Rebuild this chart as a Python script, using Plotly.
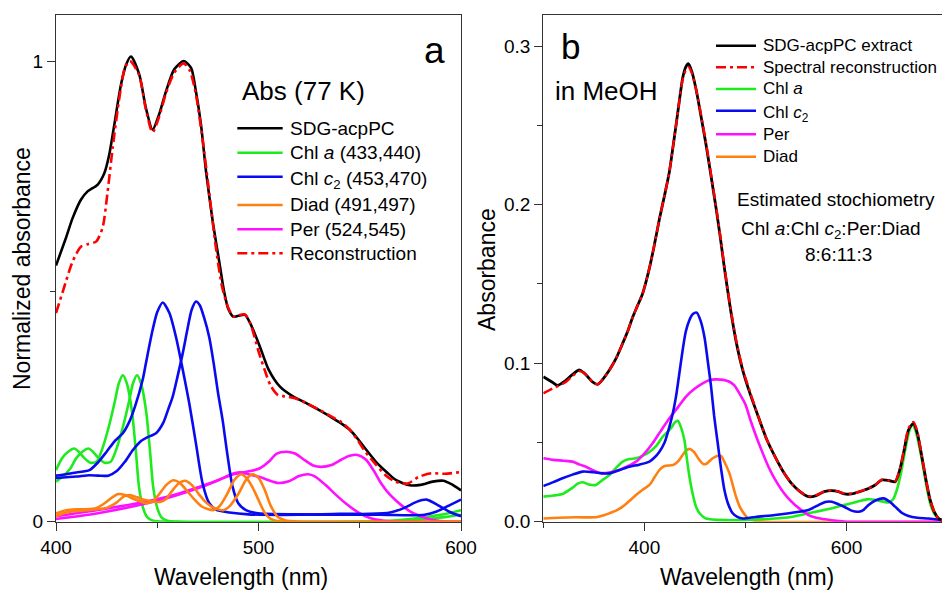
import plotly.graph_objects as go

# ---------------- Panel a (77 K, normalized) ----------------
a_sdg_wl = [400, 404.9, 408.2, 412.3, 415.6, 420.6, 423.9, 426.3, 428.8, 432.1, 434.6, 437, 441.1, 444.4,
            447.7, 450.9, 454.3, 458.4, 463.1, 466.7, 469.1, 471.6, 474.1, 477.4, 480.6, 483, 485, 487.6,
            490, 493.3, 496, 500.7, 505, 510.6, 517, 523.8, 530, 537, 541, 545.2, 549, 553.4, 558, 563.2,
            568, 574.8, 580, 586, 591.3, 595, 600]
a_sdg_val = [0.556, 0.616, 0.659, 0.699, 0.717, 0.732, 0.757, 0.797, 0.862, 0.949, 0.992, 1.01, 0.971, 0.898,
             0.851, 0.884, 0.934, 0.982, 1.0, 0.985, 0.934, 0.862, 0.76, 0.652, 0.565, 0.50, 0.463, 0.445,
             0.447, 0.449, 0.43, 0.38, 0.33, 0.293, 0.272, 0.257, 0.242, 0.224, 0.213, 0.199, 0.18, 0.155, 0.13, 0.108,
             0.09, 0.079, 0.08, 0.087, 0.089, 0.082, 0.068]

a_rec_wl = [400, 403.6, 408.2, 412.3, 416, 419.8, 423, 425.5, 428, 431.3, 434, 436.5, 441, 444.4, 447.7, 451,
            454.3, 458.4, 463, 466, 469, 472.4, 475.5, 479, 482, 485, 487.6, 490, 493.3, 496, 500, 503, 506,
            509.6, 513, 518, 523.8, 530, 537, 541, 545, 549, 553, 558, 563, 568, 573.8, 579, 585.3, 592, 600]
a_rec_val = [0.453, 0.503, 0.565, 0.597, 0.603, 0.608, 0.638, 0.717, 0.812, 0.92, 0.985, 1.0, 0.97, 0.895, 0.845, 0.88,
             0.93, 0.975, 0.995, 0.98, 0.93, 0.83, 0.72, 0.594, 0.51, 0.465, 0.445, 0.448, 0.45, 0.43, 0.37, 0.33, 0.295,
             0.275, 0.272, 0.268, 0.257, 0.243, 0.226, 0.216, 0.2, 0.177, 0.15, 0.124, 0.1, 0.086, 0.083, 0.097, 0.105, 0.104, 0.108]

a_chla1_wl = [400, 403, 406, 409, 411, 414, 417, 420, 423, 426, 429, 431, 433, 435, 437.5, 439.5, 441, 443, 445,
              448, 455, 560, 575, 590, 600]
a_chla1_val = [0.112, 0.138, 0.152, 0.159, 0.153, 0.138, 0.128, 0.13, 0.16, 0.205, 0.26, 0.3, 0.318, 0.3, 0.24, 0.15,
               0.075, 0.03, 0.01, 0.002, 0.0, 0.001, 0.006, 0.015, 0.025]
a_chla2_wl = [400, 403, 407, 410, 413, 416, 418, 421, 424, 427, 430, 433, 436, 438, 440, 442, 444.5, 446.5, 448,
              450, 452, 455, 462, 565, 580, 592, 600]
a_chla2_val = [0.087, 0.097, 0.115, 0.138, 0.152, 0.159, 0.153, 0.138, 0.128, 0.13, 0.16, 0.205, 0.26, 0.3, 0.318,
               0.3, 0.24, 0.15, 0.075, 0.03, 0.01, 0.002, 0.0, 0.001, 0.005, 0.01, 0.015]

a_chlc1_wl = [400, 405, 410, 416.5, 421, 425, 429, 433, 436, 439, 442.8, 444.4, 447.7, 450, 452.7, 456, 459.3,
              462.6, 465.8, 469.1, 472.4, 475.7, 479, 485.6, 495, 520, 540, 555, 565, 572, 578, 583, 589, 595, 600]
a_chlc1_val = [0.10, 0.103, 0.107, 0.112, 0.13, 0.152, 0.175, 0.192, 0.215, 0.25, 0.308, 0.344, 0.416, 0.455, 0.476,
               0.453, 0.40, 0.33, 0.257, 0.17, 0.083, 0.04, 0.026, 0.02, 0.016, 0.015, 0.017, 0.017, 0.02, 0.03, 0.043,
               0.048, 0.035, 0.02, 0.012]
a_chlc2_wl = [400, 410, 416.5, 421, 425.8, 430, 434, 437.9, 442, 445, 449.4, 453, 455.5, 457.6, 460, 462.6, 465,
              467, 469.1, 471, 473, 475.7, 478, 480, 482.3, 484.5, 487.2, 490, 493.8, 500, 520, 540, 560, 575, 582,
              588, 594, 600]
a_chlc2_val = [0.095, 0.098, 0.101, 0.1, 0.1, 0.11, 0.13, 0.155, 0.175, 0.183, 0.192, 0.215, 0.245, 0.271, 0.315,
               0.366, 0.42, 0.46, 0.478, 0.47, 0.445, 0.40, 0.34, 0.28, 0.22, 0.15, 0.076, 0.04, 0.025, 0.018, 0.016,
               0.015, 0.015, 0.014, 0.015, 0.022, 0.035, 0.048]

a_diad1_wl = [400, 405, 410, 415, 420, 424, 427.5, 430.8, 434, 437, 441, 444.8, 448, 451, 454.5, 457.9, 461,
              464.5, 468, 472, 477.7, 481, 484.5, 488, 491.4, 494, 497, 500, 503, 506, 510, 520, 600]
a_diad1_val = [0.018, 0.025, 0.027, 0.027, 0.03, 0.04, 0.052, 0.06, 0.058, 0.052, 0.045, 0.04, 0.045, 0.06, 0.08,
               0.09, 0.085, 0.068, 0.05, 0.033, 0.025, 0.035, 0.06, 0.09, 0.103, 0.095, 0.075, 0.047, 0.02, 0.006,
               0.001, 0.0, 0.0]
a_diad2_wl = [400, 405, 410, 415, 420, 425, 430, 433.5, 436.5, 440, 444, 447.5, 451.4, 454.5, 457, 460.5, 463.7,
              467, 470.5, 474, 478, 482.6, 486, 490, 494, 497, 500, 503, 506, 509.6, 513, 520, 600]
a_diad2_val = [0.012, 0.02, 0.023, 0.025, 0.027, 0.03, 0.042, 0.055, 0.058, 0.053, 0.047, 0.044, 0.043, 0.05, 0.065,
               0.083, 0.089, 0.08, 0.06, 0.042, 0.03, 0.025, 0.035, 0.06, 0.092, 0.103, 0.095, 0.07, 0.035, 0.01,
               0.003, 0.0, 0.0]

a_per1_wl = [400, 420, 446, 460, 471, 480, 487.6, 492, 496, 500.7, 505, 509, 513.5, 518, 523, 527, 531, 536, 541,
             545, 549, 553, 557, 560.6, 565, 570.5, 575, 578.8, 585, 592, 600]
a_per1_val = [0.012, 0.025, 0.045, 0.06, 0.076, 0.09, 0.103, 0.107, 0.11, 0.116, 0.13, 0.148, 0.152, 0.148, 0.133,
              0.122, 0.119, 0.123, 0.135, 0.143, 0.145, 0.135, 0.11, 0.083, 0.058, 0.036, 0.022, 0.014, 0.005, 0.001, 0.0]
a_per2_wl = [400, 420, 446, 460, 471, 480, 486, 491, 496, 500.7, 505, 509.8, 515, 520, 524.4, 528, 533, 537.6,
             543, 549, 555, 562, 570, 600]
a_per2_val = [0.006, 0.018, 0.041, 0.058, 0.074, 0.09, 0.102, 0.107, 0.102, 0.097, 0.09, 0.084, 0.088, 0.099, 0.103,
              0.098, 0.08, 0.061, 0.04, 0.021, 0.008, 0.002, 0.0, 0.0]

# ---------------- Panel b (MeOH) ----------------
b_sdg_wl = [300, 309, 314, 322, 329, 335.6, 340, 344, 349, 353.8, 359, 365.4, 372, 378.5, 384, 388.4, 393, 398.3,
            405, 410, 414.9, 420, 424.8, 428, 431.3, 434.5, 437.9, 441, 443.5, 447, 451.1, 456, 461, 466, 470.9, 475,
            479.2, 485, 491, 497.3, 505, 512.9, 521, 529.3, 537, 545.8, 554, 562.4, 570, 578, 585.4, 592, 598, 605.2,
            613, 621.8, 628, 635, 642, 648.1, 653.1, 657, 661.4, 666.3, 670, 674.6, 678.5, 682.8, 687, 691.1, 694.5]
b_sdg_val = [0.0915, 0.088, 0.086, 0.089, 0.093, 0.0957, 0.094, 0.0915, 0.088, 0.0867, 0.09, 0.0957, 0.103, 0.1125,
             0.121, 0.129, 0.136, 0.144, 0.16, 0.175, 0.191, 0.206, 0.221, 0.235, 0.25, 0.265, 0.28, 0.287, 0.289,
             0.284, 0.273, 0.256, 0.238, 0.218, 0.198, 0.18, 0.16, 0.135, 0.113, 0.0957, 0.08, 0.066, 0.052, 0.041,
             0.032, 0.024, 0.019, 0.0158, 0.0165, 0.019, 0.0196, 0.019, 0.0175, 0.0175, 0.019, 0.021, 0.023, 0.0263,
             0.026, 0.0252, 0.0337, 0.045, 0.058, 0.062, 0.056, 0.041, 0.027, 0.0137, 0.006, 0.002, 0.001]

b_rec_wl = [300, 309, 316, 322, 329, 335.6, 340, 344, 349, 353.8, 359, 365.4, 372, 378.5, 384, 388.4, 393, 398.3,
            405, 410, 414.9, 420, 424.8, 428, 431.3, 434.5, 437.9, 441, 443.5, 447, 451.1, 456, 461, 466, 470.9, 475,
            479.2, 485, 491, 497.3, 505, 512.9, 521, 529.3, 537, 545.8, 554, 562.4, 570, 578, 585.4, 592, 598, 605.2,
            613, 621.8, 628, 635, 642, 648.1, 653.1, 657, 661.4, 666.3, 670, 674.6, 678.5, 682.8, 687, 691.1, 694.5]
b_rec_val = [0.081, 0.084, 0.086, 0.088, 0.092, 0.095, 0.094, 0.0915, 0.088, 0.0867, 0.09, 0.0955, 0.103, 0.1125,
             0.121, 0.129, 0.136, 0.144, 0.16, 0.175, 0.191, 0.206, 0.221, 0.235, 0.25, 0.265, 0.279, 0.285, 0.287,
             0.283, 0.273, 0.257, 0.239, 0.219, 0.199, 0.181, 0.161, 0.136, 0.114, 0.0965, 0.081, 0.066, 0.052, 0.041,
             0.032, 0.024, 0.019, 0.016, 0.0168, 0.019, 0.0198, 0.019, 0.0177, 0.0177, 0.019, 0.021, 0.023, 0.0265,
             0.026, 0.0255, 0.034, 0.046, 0.059, 0.063, 0.057, 0.041, 0.027, 0.0137, 0.006, 0.002, 0.001]

b_chla_wl = [300, 310, 319, 328, 334, 338.9, 345, 352.1, 358, 365.4, 372, 378.5, 385, 391.7, 398, 405, 412, 418.1,
             426.3, 430, 433, 436, 439.6, 442, 444.6, 448, 451.1, 455, 461, 480, 529, 545, 562.4, 575, 588.7, 597,
             605.2, 613, 620.1, 626, 631.7, 641.6, 646, 649.8, 654, 658, 662, 665.4, 669, 674.6, 679, 682.8, 687,
             691.1, 694.5]
b_chla_val = [0.0158, 0.0165, 0.0175, 0.021, 0.024, 0.0249, 0.0235, 0.0232, 0.026, 0.0295, 0.034, 0.0379, 0.0395,
              0.04, 0.0415, 0.044, 0.048, 0.0536, 0.059, 0.0625, 0.0637, 0.06, 0.0515, 0.04, 0.0284, 0.017, 0.0095,
              0.005, 0.002, 0.001, 0.002, 0.003, 0.0053, 0.007, 0.009, 0.0105, 0.0116, 0.013, 0.0141, 0.014, 0.0133,
              0.0122, 0.014, 0.02, 0.031, 0.045, 0.057, 0.0616, 0.056, 0.039, 0.023, 0.0116, 0.005, 0.002, 0.001]

b_chlc_wl = [300, 310, 319, 329, 338.9, 350, 358, 365.4, 375, 385.1, 395, 405, 410, 414.9, 420, 424.8, 428, 431.3,
             434.5, 437.9, 441, 444.6, 448, 451.8, 455.5, 459.4, 463, 466, 469, 472.6, 476, 479.2, 483, 487.4, 492,
             497.3, 510, 529.3, 545, 562.4, 572.3, 579, 585.4, 592, 598.6, 605, 611.9, 617, 621.8, 629, 636.6, 643,
             648.1, 655, 661.4, 670, 681.2, 694.5]
b_chlc_val = [0.0225, 0.025, 0.0274, 0.0297, 0.0316, 0.0312, 0.0305, 0.0305, 0.0325, 0.0347, 0.036, 0.0379, 0.0405,
              0.0442, 0.05, 0.06, 0.068, 0.0789, 0.093, 0.1083, 0.12, 0.1273, 0.131, 0.1319, 0.127, 0.1167, 0.1,
              0.0852, 0.067, 0.0495, 0.033, 0.02, 0.011, 0.0053, 0.003, 0.002, 0.003, 0.0042, 0.0055, 0.0074, 0.0105,
              0.0125, 0.0126, 0.011, 0.0091, 0.007, 0.0063, 0.0075, 0.0105, 0.0135, 0.0147, 0.0125, 0.0095, 0.0055,
              0.0036, 0.0025, 0.002, 0.001]

b_per_wl = [300, 310, 320, 329, 336, 342.2, 349, 355.4, 362, 371.9, 382, 391.7, 400, 408.2, 416, 424.8, 433, 441.2,
            450, 457.7, 464, 470.9, 478, 484.2, 489, 494, 500, 505, 509.5, 516, 522.8, 529, 535.9, 542, 549.1, 556,
            562.4, 570, 578.8, 590, 600, 694.5]
b_per_val = [0.04, 0.039, 0.0385, 0.0379, 0.036, 0.0347, 0.0325, 0.0309, 0.0307, 0.032, 0.0345, 0.0379, 0.043,
             0.0495, 0.057, 0.0652, 0.072, 0.0789, 0.084, 0.0873, 0.0892, 0.0898, 0.0895, 0.0883, 0.086, 0.081, 0.074,
             0.064, 0.0558, 0.045, 0.0347, 0.027, 0.02, 0.015, 0.0105, 0.007, 0.0042, 0.0025, 0.0015, 0.0005, 0.0, 0.0]

b_diad_wl = [300, 315, 332.3, 352.1, 360, 365.4, 372, 378.5, 385, 391.7, 398, 405, 410, 414.9, 418, 421.4, 425,
             429.7, 434, 437.9, 441.5, 445.2, 449, 454.5, 458, 461, 464, 467.6, 472, 475.8, 479, 484.2, 487.5, 490.7,
             494, 497.3, 503, 510, 520, 694.5]
b_diad_val = [0.002, 0.0025, 0.0028, 0.0028, 0.004, 0.0053, 0.007, 0.0095, 0.013, 0.0168, 0.02, 0.0232, 0.028,
              0.0326, 0.0345, 0.0353, 0.0355, 0.0362, 0.0385, 0.0421, 0.045, 0.0459, 0.044, 0.0389, 0.0365, 0.0364,
              0.038, 0.04, 0.0415, 0.0416, 0.038, 0.0305, 0.023, 0.0158, 0.01, 0.0063, 0.002, 0.0005, 0.0, 0.0]

legend_a = ["SDG-acpPC", "Chl <i>a</i> (433,440)", "Chl <i>c</i><sub>2</sub> (453,470)",
            "Diad (491,497)", "Per (524,545)", "Reconstruction"]
legend_b = ["SDG-acpPC extract", "Spectral reconstruction", "Chl <i>a</i>", "Chl <i>c</i><sub>2</sub>",
            "Per", "Diad"]
stoich_lines = ["Estimated stochiometry", "Chl <i>a</i>:Chl <i>c</i><sub>2</sub>:Per:Diad", "8:6:11:3"]

# ---------------- styling ----------------
W, H = 942, 590
FONT = "Liberation Sans, Arial, Helvetica, sans-serif"
BLACK, RED, GREEN, BLUE, ORANGE, MAGENTA = "#000000", "#FF0000", "#1EEB1E", "#0A0AF0", "#FF8010", "#FF10FF"
RED_DASH = "10px,4px,3px,4px"

def px(x):
    return x / W

def py(y):
    return 1 - y / H

fig = go.Figure()

def add(xs, ys, color, width, axis, dash=None):
    xa, ya = axis
    fig.add_trace(go.Scatter(x=xs, y=ys, mode="lines", xaxis=xa, yaxis=ya, showlegend=False,
                             line=dict(color=color, width=width, shape="spline", smoothing=0.7,
                                       dash=dash if dash else "solid")))

A = ("x", "y")
B = ("x2", "y2")
LW = 2.6
add(a_chla1_wl, a_chla1_val, GREEN, LW, A)
add(a_chla2_wl, a_chla2_val, GREEN, LW, A)
add(a_per1_wl, a_per1_val, MAGENTA, LW, A)
add(a_per2_wl, a_per2_val, MAGENTA, LW, A)
add(a_chlc1_wl, a_chlc1_val, BLUE, LW, A)
add(a_chlc2_wl, a_chlc2_val, BLUE, LW, A)
add(a_diad1_wl, a_diad1_val, ORANGE, LW, A)
add(a_diad2_wl, a_diad2_val, ORANGE, LW, A)
add(a_sdg_wl, a_sdg_val, BLACK, 2.6, A)
add(a_rec_wl, a_rec_val, RED, 2.6, A, RED_DASH)

add(b_diad_wl, b_diad_val, ORANGE, LW, B)
add(b_chla_wl, b_chla_val, GREEN, LW, B)
add(b_per_wl, b_per_val, MAGENTA, LW, B)
add(b_chlc_wl, b_chlc_val, BLUE, LW, B)
add(b_sdg_wl, b_sdg_val, BLACK, 2.8, B)
add(b_rec_wl, b_rec_val, RED, 2.4, B, RED_DASH)

AXC = "#333333"
tickfont = dict(family=FONT, size=19, color="#000000")
common = dict(showline=True, linecolor=AXC, linewidth=1.4, ticks="outside", ticklen=8, tickwidth=1.3,
              tickcolor=AXC, showgrid=False, zeroline=False, tickfont=tickfont, tickmode="array",
              automargin=False)

ydom = [1 - 521.7 / H, 1 - 15 / H]
fig.update_layout(
    width=W, height=H, margin=dict(l=0, r=0, t=0, b=0, autoexpand=False),
    paper_bgcolor="white", plot_bgcolor="white",
    xaxis=dict(domain=[px(56), px(461)], range=[400, 600], anchor="y", mirror=True,
               tickvals=[400, 500, 600], ticktext=["400", "500", "600"],
               minor=dict(tickmode="array", tickvals=[450, 550], ticks="outside", ticklen=5,
                          tickwidth=1.3, tickcolor=AXC), **common),
    yaxis=dict(domain=ydom, range=[0, 1.1], anchor="x", mirror=True,
               tickvals=[0, 1], ticktext=["0", "1"],
               minor=dict(tickmode="array", tickvals=[0.5], ticks="outside", ticklen=5,
                          tickwidth=1.3, tickcolor=AXC), **common),
    xaxis2=dict(domain=[px(543.3), 1.0], range=[300, 694.5], anchor="y2", mirror=True,
                tickvals=[400, 600], ticktext=["400", "600"],
                minor=dict(tickmode="array", tickvals=[300, 500], ticks="outside", ticklen=5,
                           tickwidth=1.3, tickcolor=AXC), **common),
    yaxis2=dict(domain=ydom, range=[0, 0.3197], anchor="x2", mirror=False,
                tickvals=[0, 0.1, 0.2, 0.3], ticktext=["0.0", "0.1", "0.2", "0.3"],
                minor=dict(tickmode="array", tickvals=[0.05, 0.15, 0.25], ticks="outside", ticklen=5,
                           tickwidth=1.3, tickcolor=AXC), **common),
)

def text(x, y, s, size, xanchor="center", angle=0):
    fig.add_annotation(x=px(x), y=py(y), xref="paper", yref="paper", text=s, showarrow=False,
                       xanchor=xanchor, yanchor="middle", textangle=angle,
                       font=dict(family=FONT, size=size, color="#000000"))

# axis titles
text(241, 577, "Wavelength (nm)", 23)
text(747, 577, "Wavelength (nm)", 23)
text(22, 269, "Normalized absorbance", 23, angle=-90)
text(487, 270, "Absorbance", 23, angle=-90)

# panel labels
text(434, 50, "a", 37)
text(570, 47, "b", 35)
text(240, 91, "Abs (77 K)", 26, xanchor="left")
text(553, 91, "in MeOH", 26, xanchor="left")

# legend panel a
leg_a_y = [128.3, 152.7, 176.7, 205, 229.3, 253.3]
leg_a_col = [BLACK, GREEN, BLUE, ORANGE, MAGENTA, RED]
for lab, yy, col in zip(legend_a, leg_a_y, leg_a_col):
    fig.add_shape(type="line", xref="paper", yref="paper", x0=px(237.3), x1=px(282.7), y0=py(yy), y1=py(yy),
                  line=dict(color=col, width=2.6, dash=RED_DASH if col == RED else "solid"))
    text(288.3, yy + (3 if "sub" in lab else 0), lab, 19, xanchor="left")

# legend panel b
leg_b_y = [45.7, 67.3, 89, 110.7, 134.3, 156.7]
leg_b_col = [BLACK, RED, GREEN, BLUE, MAGENTA, ORANGE]
for lab, yy, col in zip(legend_b, leg_b_y, leg_b_col):
    fig.add_shape(type="line", xref="paper", yref="paper", x0=px(716), x1=px(756), y0=py(yy), y1=py(yy),
                  line=dict(color=col, width=2.4, dash=RED_DASH if col == RED else "solid"))
    text(760.7, yy + (3 if "sub" in lab else 0), lab, 17, xanchor="left")

# stoichiometry
text(835.5, 199, stoich_lines[0], 19)
text(831, 229.5, stoich_lines[1], 19)
text(838, 254, stoich_lines[2], 19)

fig.write_html("out.html",
               config={"displayModeBar": False},
               post_script="document.body.style.margin='0px';"
                           "document.documentElement.style.overflow='hidden';")
